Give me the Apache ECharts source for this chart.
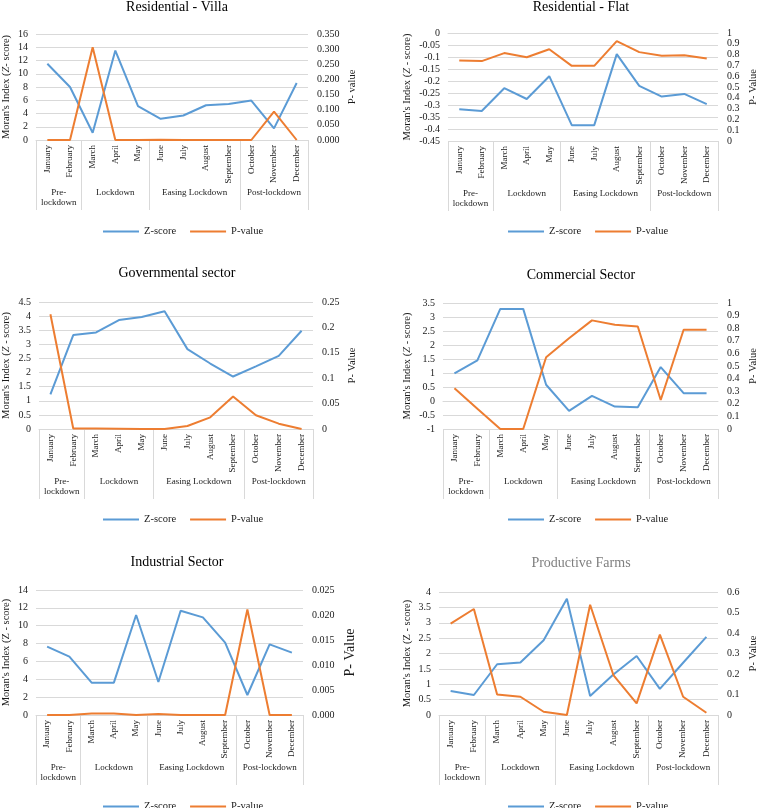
<!DOCTYPE html>
<html>
<head>
<meta charset="utf-8">
<script src="https://cdn.jsdelivr.net/npm/echarts@6/dist/echarts.min.js"></script>
<style>
html,body{margin:0;padding:0;background:#fff;}
#chart{width:760px;height:808px;}
</style>
</head>
<body>
<div id="chart"></div>
<script>
// ---- data ----
const months = ['January','February','March','April','May','June','July','August','September','October','November','December'];
const groupNames = ['Pre-\nlockdown','Lockdown','Easing Lockdown','Post-lockdown'];
const groupSizes = [2,3,4,3];

const villaZ = [11.5, 8.0, 1.1, 13.5, 5.1, 3.2, 3.7, 5.25, 5.45, 5.95, 1.75, 8.6];
const villaP = [0, 0, 0.306, 0, 0, 0.001, 0, 0, 0, 0, 0.094, 0];
const flatZ = [-0.318, -0.325, -0.23, -0.275, -0.18, -0.384, -0.384, -0.088, -0.22, -0.265, -0.254, -0.296];
const flatP = [0.745, 0.74, 0.814, 0.776, 0.85, 0.696, 0.696, 0.925, 0.823, 0.79, 0.795, 0.764];
const govZ = [1.23, 3.33, 3.42, 3.86, 3.97, 4.17, 2.83, 2.32, 1.86, 2.22, 2.59, 3.48];
const govP = [0.226, 0.001, 0.001, 0.0005, 0, 0, 0.006, 0.023, 0.064, 0.027, 0.0105, 0];
const comZ = [0.99, 1.45, 3.29, 3.29, 0.58, -0.35, 0.18, -0.2, -0.22, 1.21, 0.28, 0.28];
const comP = [0.324, 0.16, 0, 0, 0.57, 0.72, 0.862, 0.828, 0.814, 0.23, 0.788, 0.788];
const indZ = [7.65, 6.53, 3.62, 3.62, 11.2, 3.7, 11.68, 10.93, 8.1, 2.24, 7.91, 6.98];
const indP = [0, 0, 0.0003, 0.0003, 0, 0.0002, 0, 0, 0, 0.0211, 0, 0];
const farmZ = [0.78, 0.65, 1.65, 1.71, 2.43, 3.78, 0.62, 1.32, 1.92, 0.85, 1.7, 2.54];
const farmP = [0.446, 0.517, 0.1, 0.089, 0.016, 0, 0.538, 0.195, 0.057, 0.392, 0.089, 0.011];

// group boundaries and centers derived from group sizes
const groupBounds = [0];
groupSizes.forEach(s => groupBounds.push(groupBounds[groupBounds.length-1] + s));
const groupCenters = groupSizes.map((s,i) => groupBounds[i] + s/2);

const F = 'Liberation Serif';
const BLUE = '#5B9BD5', ORANGE = '#ED7D31', GRID = '#D9D9D9', TXT = '#1a1a1a';

const panels = [
  {title:'Residential - Villa', cx:177, ty:0, grid:[33,34,275,106], z:villaZ, p:villaP,
   l:{min:0,max:16,interval:2}, r:{min:0,max:0.35,interval:0.05,dec:3},
   lname:"Moran's Index ({i|Z}- score)", lgap:24, rname:'P- value', rgap:39, rsize:10.5, leg:[103,226]},
  {title:'Residential - Flat', cx:581, ty:0, grid:[448,33,275,108], z:flatZ, p:flatP,
   l:{min:-0.45,max:0,interval:0.05}, r:{min:0,max:1,interval:0.1},
   lname:"Moran's Index ({i|Z} - score)", lgap:35, rname:'P- Value', rgap:30, rsize:10.5, leg:[508,226]},
  {title:'Governmental sector', cx:177, ty:266, grid:[36,302,277,127], z:govZ, p:govP,
   l:{min:0,max:4.5,interval:0.5}, r:{min:0,max:0.25,interval:0.05},
   lname:"Moran's Index ({i|Z} - score)", lgap:27, rname:'P- Value', rgap:34, rsize:10.5, leg:[103,514]},
  {title:'Commercial Sector', cx:581, ty:268, grid:[443,303,280,126], z:comZ, p:comP,
   l:{min:-1,max:3.5,interval:0.5}, r:{min:0,max:1,interval:0.1},
   lname:"Moran's Index ({i|Z} - score)", lgap:30, rname:'P- Value', rgap:30, rsize:10.5, leg:[508,514]},
  {title:'Industrial Sector', cx:177, ty:555, grid:[33,590,270,125], z:indZ, p:indP,
   l:{min:0,max:14,interval:2}, r:{min:0,max:0.025,interval:0.005,dec:3},
   lname:"Moran's Index (Z - score)", lgap:24, rname:'P- Value', rgap:40, rsize:14, leg:[103,801]},
  {title:'Productive Farms', cx:581, ty:556, grid:[439,592,284,123], z:farmZ, p:farmP, tcolor:'#7f7f7f',
   l:{min:0,max:4,interval:0.5}, r:{min:0,max:0.6,interval:0.1},
   lname:"Moran's Index (Z - score)", lgap:26, rname:'P- Value', rgap:30, rsize:10.5, leg:[508,801]}
];

const grids=[], xAxes=[], yAxes=[], series=[], titles=[], legends=[];
panels.forEach((p,i) => {
  grids.push({left:p.grid[0], top:p.grid[1], width:p.grid[2], height:p.grid[3]});
  titles.push({text:p.title, left:p.cx, top:p.ty, textAlign:'center', padding:0,
    textStyle:{fontFamily:F, fontSize:14, fontWeight:'normal', color:p.tcolor||'#000'}});
  const xi = xAxes.length;
  xAxes.push({type:'category', gridIndex:i, data:months, position:'bottom',
    axisLine:{lineStyle:{color:GRID, width:1}}, axisTick:{show:false},
    axisLabel:{rotate:90, interval:0, fontSize:9, margin:5, color:TXT, fontFamily:F}});
  xAxes.push({type:'value', gridIndex:i, min:0, max:12, position:'bottom', offset:0,
    axisLine:{show:false}, splitLine:{show:false}, axisLabel:{show:false},
    axisTick:{show:true, inside:false, length:70, customValues:groupBounds, lineStyle:{color:GRID}}});
  xAxes.push({type:'value', gridIndex:i, min:0, max:12, position:'bottom', offset:47,
    axisLine:{show:false}, splitLine:{show:false}, axisTick:{show:false},
    axisLabel:{customValues:groupCenters, margin:0, fontSize:9, lineHeight:10.5, color:TXT, fontFamily:F,
      verticalAlign:'top',
      formatter: v => { const k = groupCenters.indexOf(v); return k>=0 ? groupNames[k] : ''; }}});
  const yi = yAxes.length;
  yAxes.push({type:'value', gridIndex:i, position:'left', min:p.l.min, max:p.l.max, interval:p.l.interval,
    axisLine:{show:false}, axisTick:{show:false}, splitLine:{lineStyle:{color:GRID}},
    axisLabel:{fontSize:10, margin:8, color:TXT, fontFamily:F},
    name:p.lname, nameLocation:'middle', nameRotate:90, nameGap:p.lgap,
    nameTextStyle:{fontFamily:F, fontSize:10.5, color:TXT,
      rich:{i:{fontFamily:F, fontSize:10.5, fontStyle:'italic', color:TXT}}}});
  yAxes.push({type:'value', gridIndex:i, position:'right', min:p.r.min, max:p.r.max, interval:p.r.interval,
    axisLine:{show:false}, axisTick:{show:false}, splitLine:{show:false},
    axisLabel:{fontSize:10, margin:9, color:TXT, fontFamily:F,
      formatter: v => p.r.dec ? v.toFixed(p.r.dec) : String(+v.toFixed(4))},
    name:p.rname, nameLocation:'middle', nameRotate:90, nameGap:p.rgap,
    nameTextStyle:{fontFamily:F, fontSize:p.rsize, color:TXT}});
  series.push({name:'Z-score', type:'line', xAxisIndex:xi, yAxisIndex:yi, data:p.z,
    symbol:'none', lineStyle:{color:BLUE, width:2}, itemStyle:{color:BLUE}});
  series.push({name:'P-value', type:'line', xAxisIndex:xi, yAxisIndex:yi+1, data:p.p,
    symbol:'none', lineStyle:{color:ORANGE, width:2}, itemStyle:{color:ORANGE}});
  legends.push({left:p.leg[0], top:p.leg[1], padding:0, data:['Z-score','P-value'], icon:'rect',
    itemWidth:36, itemHeight:2, itemGap:14, textStyle:{fontFamily:F, fontSize:10.5, color:TXT}});
});

const chart = echarts.init(document.getElementById('chart'), null, {renderer:'canvas'});
chart.setOption({
  animation:false,
  backgroundColor:'#fff',
  title:titles, legend:legends, grid:grids, xAxis:xAxes, yAxis:yAxes, series:series
});
</script>
</body>
</html>
